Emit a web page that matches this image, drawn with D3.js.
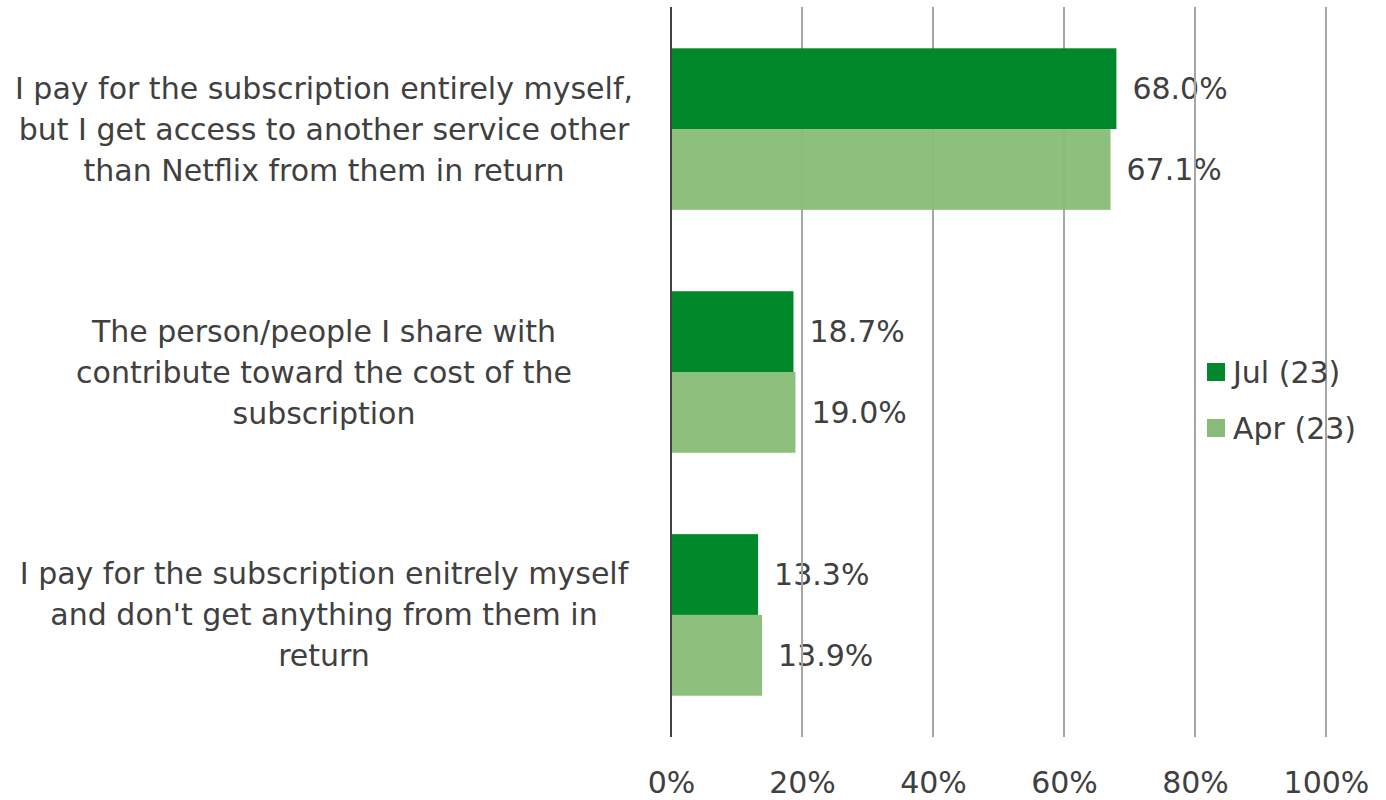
<!DOCTYPE html>
<html>
<head>
<meta charset="utf-8">
<script src="https://cdn.jsdelivr.net/npm/d3@7"></script>
<style>
  html, body { margin: 0; padding: 0; background: #fff; }
  svg { display: block; }
  text { font-family: "DejaVu Sans", sans-serif; fill: #404040; }
</style>
</head>
<body>
<svg id="chart" width="1386" height="800"></svg>
<script>
// Survey answers (top to bottom), each drawn as a group of two bars
const categories = [
  ["I pay for the subscription entirely myself,", "but I get access to another service other", "than Netflix from them in return"],
  ["The person/people I share with", "contribute toward the cost of the", "subscription"],
  ["I pay for the subscription enitrely myself", "and don't get anything from them in", "return"]
];
const seriesNames = ["Jul (23)", "Apr (23)"];
const julValues = [68.0, 18.7, 13.3];
const aprValues = [67.1, 19.0, 13.9];
const tickValues = [0, 20, 40, 60, 80, 100];
const colors = ["#00882B", "#88BC78"];
const fontSize = "30px";

const svg = d3.select("#chart");
const x = d3.scaleLinear().domain([0, 100]).range([671, 1326]);
const y = d3.scaleBand().domain(d3.range(categories.length)).range([7, 737])
  .paddingInner(0.335).paddingOuter(0.17);
const sub = d3.scaleBand().domain([0, 1]).range([0, y.bandwidth()]);

const series = [julValues, aprValues];

// value labels (drawn first so the grid shows across them)
series.forEach((vals, s) => {
  svg.append("g").selectAll("text").data(vals).join("text")
    .attr("x", d => x(d) + 16)
    .attr("y", (d, i) => y(i) + sub(s) + sub.bandwidth() / 2)
    .attr("dy", "0.35em")
    .style("font-size", fontSize)
    .text(d => d.toFixed(1) + "%");
});

// x axis tick labels and vertical gridlines
const xAxis = d3.axisBottom(x).tickValues(tickValues).tickFormat(d => d + "%").tickSize(0).tickPadding(0);
const gx = svg.append("g").attr("transform", "translate(0,737)").call(xAxis);
gx.select(".domain").remove();
gx.selectAll(".tick text").attr("y", 45).attr("dy", "0.35em").style("font-size", fontSize)
  .style("font-family", "\"DejaVu Sans\", sans-serif").attr("fill", "#404040");
svg.append("g").selectAll("line").data(tickValues.slice(1)).join("line")
  .attr("x1", d => x(d)).attr("x2", d => x(d))
  .attr("y1", 7).attr("y2", 737)
  .attr("stroke", "#A6A6A6").attr("stroke-width", 2);

// bars
series.forEach((vals, s) => {
  svg.append("g").selectAll("rect").data(vals).join("rect")
    .attr("x", x(0))
    .attr("y", (d, i) => y(i) + sub(s))
    .attr("width", d => x(d) - x(0))
    .attr("height", sub.bandwidth())
    .attr("fill", colors[s])
    .attr("fill-opacity", s === 1 ? 0.96 : 1);
});

// category axis line
svg.append("line")
  .attr("x1", x(0)).attr("x2", x(0)).attr("y1", 7).attr("y2", 737)
  .attr("stroke", "#404040").attr("stroke-width", 2);

// category labels, three centred lines each
categories.forEach((lines, i) => {
  const cy = y(i) + y.bandwidth() / 2;
  const t = svg.append("text").attr("text-anchor", "middle").style("font-size", fontSize);
  lines.forEach((ln, k) => {
    t.append("tspan").attr("x", 324).attr("y", cy + (k - 1) * 41).attr("dy", "0.35em").text(ln);
  });
});

// legend
const legend = svg.append("g");
seriesNames.forEach((name, s) => {
  const ly = 372 + s * 56;
  legend.append("rect").attr("x", 1207).attr("y", ly - 9).attr("width", 18).attr("height", 18).attr("fill", colors[s]);
  legend.append("text").attr("x", 1233).attr("y", ly).attr("dy", "0.35em").style("font-size", fontSize).text(name);
});
</script>
</body>
</html>
